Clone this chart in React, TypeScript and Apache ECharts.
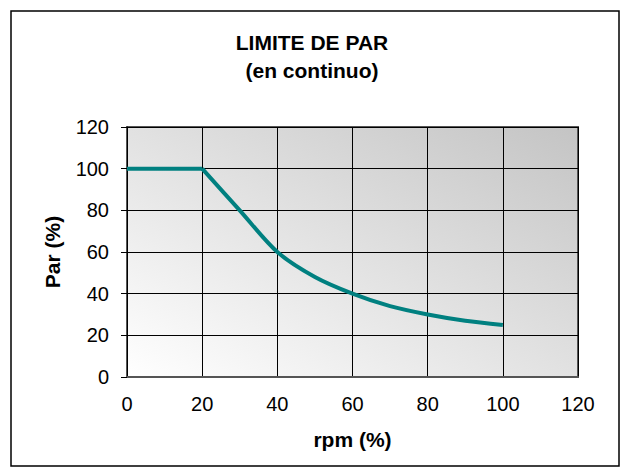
import React, { useEffect, useRef } from "react";
import * as echarts from "echarts";

const titleLines = ["LIMITE DE PAR", "(en continuo)"];
const xAxisName = "rpm (%)";
const yAxisName = "Par (%)";
const flatX = [0, 20];
const flatY = [100, 100];
const curveX = [20, 30, 40, 50, 60, 70, 80, 90, 100];
const curveY = [100, 80, 60, 48, 40, 34, 30, 27, 25];

const FONT = "'Liberation Sans', Arial, sans-serif";

export default function App() {
  const ref = useRef<HTMLDivElement>(null);
  useEffect(() => {
    if (!ref.current) return;
    const chart = echarts.init(ref.current, null, { renderer: "svg" });
    const lineStyle = { color: "#008080", width: 4 };
    chart.setOption({
      animation: false,
      backgroundColor: "#ffffff",
      title: {
        text: titleLines.join("\n"),
        left: "center",
        top: 23,
        textStyle: {
          fontFamily: FONT,
          fontSize: 21,
          fontWeight: "bold",
          color: "#000",
          lineHeight: 28,
        },
      },
      graphic: [
        {
          type: "rect",
          shape: { x: 11, y: 11, width: 608, height: 455 },
          style: { fill: "none", stroke: "#000", lineWidth: 1.5 },
          silent: true,
          z: 100,
        },
      ],
      grid: {
        left: 127,
        top: 127,
        right: 46,
        bottom: 93,
        show: true,
        borderWidth: 2,
        borderColor: "#555",
        backgroundColor: new echarts.graphic.LinearGradient(0, 1, 1, 0, [
          { offset: 0, color: "#ffffff" },
          { offset: 1, color: "#c4c4c4" },
        ]),
      },
      xAxis: {
        type: "value",
        min: 0,
        max: 120,
        interval: 20,
        name: xAxisName,
        nameLocation: "middle",
        nameGap: 52,
        nameTextStyle: { fontFamily: FONT, fontSize: 21, fontWeight: "bold", color: "#000" },
        axisLine: { show: true, lineStyle: { color: "#555", width: 2 } },
        axisTick: { show: false },
        axisLabel: { fontFamily: FONT, fontSize: 20, color: "#000", margin: 17 },
        splitLine: { show: true, lineStyle: { color: "#000", width: 1 } },
      },
      yAxis: {
        type: "value",
        min: 0,
        max: 120,
        interval: 20,
        name: yAxisName,
        nameLocation: "middle",
        nameGap: 64,
        nameTextStyle: { fontFamily: FONT, fontSize: 21, fontWeight: "bold", color: "#000" },
        axisLine: { show: true, lineStyle: { color: "#000", width: 1 } },
        axisTick: { show: true, length: 6, lineStyle: { color: "#000" } },
        axisLabel: { fontFamily: FONT, fontSize: 20, color: "#000", margin: 18 },
        splitLine: { show: true, lineStyle: { color: "#000", width: 1 } },
      },
      series: [
        {
          type: "line",
          data: flatX.map((x, i) => [x, flatY[i]]),
          showSymbol: false,
          lineStyle,
          z: 5,
        },
        {
          type: "line",
          data: curveX.map((x, i) => [x, curveY[i]]),
          showSymbol: false,
          smooth: 0.3,
          lineStyle,
          z: 5,
        },
      ],
    });
    return () => chart.dispose();
  }, []);
  return (
    <div
      ref={ref}
      style={{ position: "fixed", left: 0, top: 0, width: 624, height: 470 }}
    />
  );
}
